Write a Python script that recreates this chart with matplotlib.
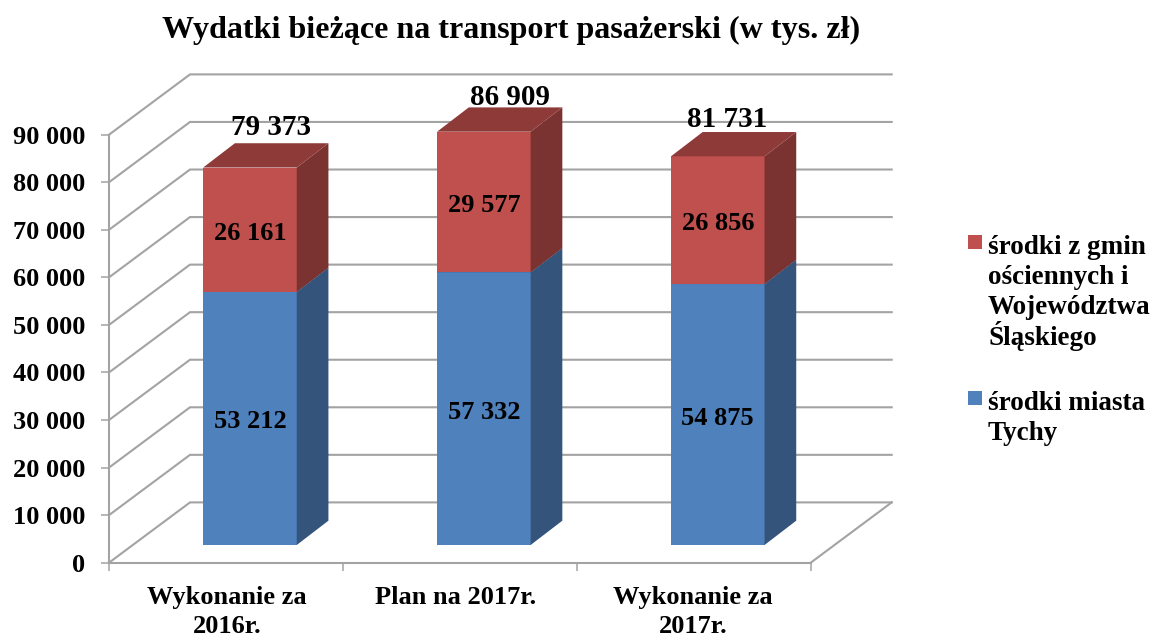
import matplotlib
matplotlib.use("Agg")
import matplotlib.pyplot as plt
from matplotlib.patches import Polygon, Rectangle
from matplotlib.transforms import Affine2D

categories = ["Wykonanie za\n2016r.", "Plan na 2017r.", "Wykonanie za\n2017r."]
miasto = [53212, 57332, 54875]
gminy = [26161, 29577, 26856]
totals = [79373, 86909, 81731]
y_ticks = [0, 10000, 20000, 30000, 40000, 50000, 60000, 70000, 80000, 90000]
title = "Wydatki bieżące na transport pasażerski (w tys. zł)"
legend_gminy = ["środki z gmin", "ościennych i", "Województwa", "Śląskiego"]
legend_miasto = ["środki miasta", "Tychy"]

W, H = 1151, 637
plt.rcParams["font.family"] = ["Liberation Serif", "DejaVu Serif"]
plt.rcParams["font.weight"] = "bold"
fig = plt.figure(figsize=(W / 100, H / 100), dpi=100, facecolor="white")

L, R, T, B = 109.0, 810.7, 134.7, 562.7
ax = fig.add_axes([L / W, 1 - B / H, (R - L) / W, (B - T) / H])
ax.set_xlim(0, 3)
ax.set_ylim(0, 90000)
px_x = 3 / (R - L)
px_y = 90000 / (B - T)

GRID = "#a3a3a3"
BLUE, BLUE_SIDE, BLUE_TOP = "#4f81bd", "#34547c", "#3f6797"
RED, RED_SIDE, RED_TOP = "#c0504d", "#7a3331", "#8e3a38"

# wall depth
wx, wy = 81 * px_x, 60.3 * px_y
for v in y_ticks:
    ax.plot([0, wx, 3 + wx], [v, v + wy, v + wy], color=GRID, lw=1.5,
            clip_on=False, zorder=1, solid_joinstyle="miter")
ax.plot([3, 3 + wx], [0, wy], color=GRID, lw=1.5, clip_on=False, zorder=1)

# bars
bar_w = 0.4
fx, fy = 24 * px_x, 17.7 * px_y
dx, dy = 31.7 * px_x, 24.3 * px_y


def box(i, bottom, height, front, side, top):
    x0 = i + 0.5 - bar_w / 2 + fx
    x1 = x0 + bar_w
    y0 = bottom + fy
    y1 = y0 + height
    ax.bar(x0, height, width=bar_w, bottom=y0, align="edge", color=front,
           linewidth=0, clip_on=False, zorder=3)
    ax.add_patch(Polygon([(x1, y0), (x1 + dx, y0 + dy), (x1 + dx, y1 + dy), (x1, y1)],
                         closed=True, fc=side, ec="none", clip_on=False, zorder=3))
    ax.add_patch(Polygon([(x0, y1), (x0 + dx, y1 + dy), (x1 + dx, y1 + dy), (x1, y1)],
                         closed=True, fc=top, ec="none", clip_on=False, zorder=3))
    return (x0 + x1) / 2, (y0 + y1) / 2


total_offsets = [(21, 40), (26, 34.5), (9, 37)]
inner_shift = 3.5 * px_y
for i in range(3):
    cx, cy = box(i, 0, miasto[i], BLUE, BLUE_SIDE, BLUE_TOP)
    ax.text(cx, cy - inner_shift, f"{miasto[i]:,}".replace(",", " "), ha="center", va="center",
            fontsize=19, color="black", zorder=5)
    cx, cy = box(i, miasto[i], gminy[i], RED, RED_SIDE, RED_TOP)
    ax.text(cx, cy - inner_shift, f"{gminy[i]:,}".replace(",", " "), ha="center", va="center",
            fontsize=19, color="black", zorder=5)
    ox, oy = total_offsets[i]
    ax.text(cx + ox * px_x, totals[i] + fy + oy * px_y,
            f"{totals[i]:,}".replace(",", " "), ha="center", va="center",
            fontsize=21, color="black", zorder=5)

# axes
for s in ("top", "right"):
    ax.spines[s].set_visible(False)
for s in ("left", "bottom"):
    ax.spines[s].set_color(GRID)
    ax.spines[s].set_linewidth(1.5)
ax.patch.set_alpha(0)
ax.set_yticks(y_ticks)
ax.set_yticklabels([f"{v:,}".replace(",", " ") for v in y_ticks], fontsize=19)
ax.set_xticks([0, 1, 2, 3])
ax.set_xticklabels([])
ax.set_xticks([0.5, 1.5, 2.5], minor=True)
ax.set_xticklabels(categories, minor=True, fontsize=19, linespacing=1.3)
ax.tick_params(axis="y", length=5.8, width=1.1, color=GRID, pad=11.5)
ax.tick_params(axis="x", which="major", length=5.8, width=1.1, color=GRID)
ax.tick_params(axis="x", which="minor", length=0, pad=17)
for lab, shift in zip(ax.get_xticklabels(minor=True), [1, -4, -1]):
    lab.set_transform(lab.get_transform() + Affine2D().translate(shift, 0))

fig.text(511 / W, 1 - 30.5 / H, title, ha="center", va="center", fontsize=23.1, color="black")


# legend
def legend_entry(color, y_box, y_base, lines):
    fig.add_artist(Rectangle((968 / W, 1 - (y_box + 14) / H), 14 / W, 14 / H,
                             transform=fig.transFigure, fc=color, ec="none"))
    for k, line in enumerate(lines):
        fig.text(988 / W, 1 - (y_base + k * 30.5) / H, line, ha="left", va="baseline",
                 fontsize=19.5, color="black")


legend_entry(RED, 235, 253.5, legend_gminy)
legend_entry(BLUE, 391, 409.5, legend_miasto)

fig.savefig("out.png", dpi=100)
